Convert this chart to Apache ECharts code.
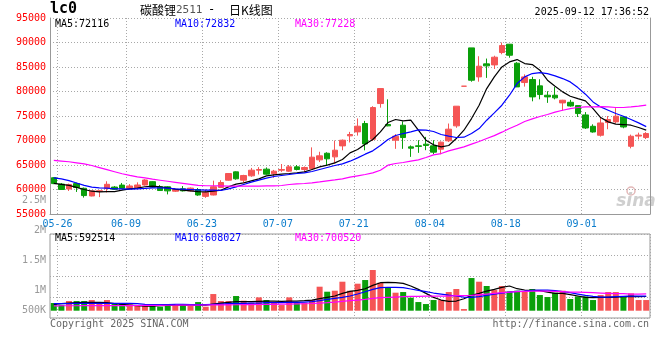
<!DOCTYPE html>
<html><head><meta charset="utf-8">
<script src="https://cdn.jsdelivr.net/npm/echarts@6/dist/echarts.min.js"></script>
<style>html,body{margin:0;padding:0;background:#fff}#c{width:660px;height:360px}</style>
</head><body><div id="c"></div>
<script>
const dates = ['05-23','05-26','05-27','05-28','05-29','05-30','06-03','06-04','06-05','06-06',
'06-09','06-10','06-11','06-12','06-13','06-16','06-17','06-18','06-19','06-20',
'06-23','06-24','06-25','06-26','06-27','06-30','07-01','07-02','07-03','07-04',
'07-07','07-08','07-09','07-10','07-11','07-14','07-15','07-16','07-17','07-18',
'07-21','07-22','07-23','07-24','07-25','07-28','07-29','07-30','07-31','08-01',
'08-04','08-05','08-06','08-07','08-08','08-11','08-12','08-13','08-14','08-15',
'08-18','08-19','08-20','08-21','08-22','08-25','08-26','08-27','08-28','08-29',
'09-01','09-02','09-03','09-04','09-05','09-08','09-09','09-10','09-11'];

const openP = [62400,61100,60100,61200,60250,58680,59600,60200,60500,60900,
60250,60390,60920,61600,60560,60560,59650,60140,59720,60000,
58600,58880,60410,61900,63600,61900,62790,63940,64150,63200,
63940,63740,64620,64080,64280,66050,67400,66660,68900,70950,
71760,73460,70270,77540,73260,70060,73120,68700,68910,69250,
68910,68230,69930,72990,81080,88900,82980,85640,85430,87950,
89650,85770,81830,82440,81150,79240,79240,77670,77800,77130,
75220,72900,71070,73660,73800,74800,68820,70900,70600];
const closeP = [61200,60000,61000,60400,58760,59700,59750,61060,60050,60250,
60720,60920,61940,60490,59790,59720,60000,59720,60280,58880,
59370,60560,61430,63260,62180,62860,63940,64080,63130,63740,
64080,64620,64080,64490,66600,66870,66260,68020,70060,71220,
72920,69300,76730,80600,72990,70880,70600,68430,68800,68980,
67620,69660,72310,77000,81080,82300,85160,85230,87000,89380,
87400,80940,82980,78900,79380,78900,78700,78220,77050,75500,
72560,71740,73580,74280,74960,72760,70870,71100,71420];
const highP = [62500,61300,61200,61400,60400,59800,59900,61680,60700,61330,
61100,61460,62100,61700,60900,60700,60100,60700,60400,60300,
60000,61800,61900,63300,63700,63000,64400,64560,64500,64000,
65200,65000,65000,64700,68600,67700,67600,70000,70200,71760,
74500,74000,77000,80600,78400,71300,73900,69000,70060,70740,
70060,69800,73460,77000,81080,88900,87200,86720,87300,90000,
89700,86000,83500,83000,82500,80060,80900,78300,78300,77200,
75800,73300,74700,75000,76600,75000,71200,71600,71700];
const lowP = [61100,59900,59700,59500,58350,58600,58450,59400,59900,60150,
60100,60050,60800,60400,59700,59000,59500,59600,59600,58700,
58300,58800,60300,61800,62000,61400,62600,63060,63000,62400,
63600,63600,63900,63600,64000,65600,64900,65300,68000,69600,
71000,68000,69900,76700,72900,68300,68300,66660,67480,68020,
67200,67200,69700,72600,81080,82000,82000,82780,84600,87600,
86900,80900,81000,78000,78400,77680,78400,76100,76900,74800,
72350,71600,70800,72300,73500,72500,68400,70200,70300];

const ma5 = [61260,61050,60840,60420,60000,59650,59510,59580,59580,59860,
60140,60280,60560,60700,60560,60350,60070,59860,59720,59580,
59510,59650,59860,60540,61090,61360,61770,62180,62790,62990,
63130,63260,63400,63600,64080,64620,64960,65440,66120,67480,
68160,69250,70200,71760,73670,74280,74010,74140,72100,70060,
69110,68700,68980,70400,72100,74480,77200,80600,82980,85020,
86040,86520,85700,85500,84340,82300,81080,79920,79040,78560,
78090,76520,74690,73800,73330,73260,73120,72650,72116];
const ma10 = [62380,62170,61820,61330,60840,60490,60350,60280,60140,60140,
60070,60140,60210,60350,60350,60280,60140,60070,60000,59930,
59860,59860,59800,60140,60540,61020,61500,61900,62310,62650,
62860,63060,63260,63400,63670,64080,64490,64900,65240,65780,
66460,67210,67890,68980,70200,71020,71420,71760,72170,72100,
71830,71220,70880,70610,70680,71420,72440,74140,75640,77200,
79240,81620,82980,83660,83870,83660,83190,82640,81960,80800,
79450,77880,76860,76180,75500,74960,74280,73600,72832];
const ma30 = [65940,65800,65660,65450,65240,64890,64470,64050,63630,63210,
62870,62590,62380,62100,61890,61680,61470,61260,61050,60840,
60770,60770,60750,60680,60680,60680,60680,60680,60750,60750,
60820,61020,61160,61220,61360,61560,61770,61970,62180,62520,
62790,63060,63400,63940,64960,65300,65510,65780,66050,66530,
67070,67340,67890,68300,68700,69250,69800,70400,71000,71700,
72440,73120,73870,74400,74900,75300,75780,76180,76520,76730,
76860,76860,76930,76860,76730,76730,76860,77000,77228];

const volume = [320000,236000,403000,403000,403000,445000,334000,445000,306000,306000,
264000,236000,236000,209000,167000,264000,264000,236000,195000,361000,
167000,695000,403000,403000,612000,417000,334000,556000,445000,334000,
236000,556000,334000,334000,445000,1001000,792000,834000,1209000,834000,
1126000,1279000,1696000,1168000,973000,751000,778000,542000,361000,278000,
445000,445000,778000,904000,70000,1362000,1209000,1029000,862000,1029000,
806000,834000,806000,904000,653000,570000,751000,834000,487000,598000,
598000,445000,653000,778000,778000,598000,723000,445000,445000];
const volMa5 = [264000,292000,320000,334000,348000,348000,348000,334000,292000,264000,
236000,209000,195000,195000,209000,222000,236000,236000,236000,236000,
236000,278000,320000,348000,375000,375000,375000,389000,403000,403000,
389000,403000,403000,417000,445000,500000,556000,612000,723000,806000,
848000,917000,1056000,1168000,1182000,1168000,1140000,1029000,890000,723000,
556000,445000,389000,403000,500000,639000,723000,820000,890000,973000,
1029000,917000,862000,848000,834000,778000,723000,723000,667000,612000,
556000,542000,556000,556000,570000,584000,598000,584000,592514];
const volMa10 = [292000,292000,292000,306000,306000,306000,306000,306000,306000,306000,
306000,292000,264000,250000,250000,250000,264000,264000,250000,250000,
250000,264000,278000,292000,306000,306000,320000,320000,334000,334000,
334000,348000,348000,361000,375000,417000,473000,514000,556000,612000,
695000,792000,890000,959000,973000,973000,959000,904000,848000,792000,
737000,695000,653000,612000,570000,556000,584000,639000,695000,737000,
778000,806000,820000,848000,862000,862000,834000,792000,751000,695000,
639000,598000,570000,570000,584000,598000,612000,612000,608027];
const volMa30 = [205000,206000,207000,207000,208000,209000,210000,211000,212000,213000,
215000,217000,219000,222000,224000,227000,229000,232000,234000,236000,
238000,240000,243000,245000,248000,251000,254000,258000,262000,266000,
271000,276000,283000,290000,300000,315000,335000,361000,389000,417000,
445000,473000,514000,542000,556000,570000,584000,598000,598000,612000,
612000,612000,612000,626000,626000,639000,667000,695000,723000,751000,
778000,792000,806000,820000,820000,820000,806000,792000,778000,778000,
765000,751000,737000,723000,709000,709000,695000,695000,700520];

const priceMin = 55000, priceMax = 95000, priceStep = 5000;
const dateLabelIdx = [1,10,20,30,40,50,60,70];
const volTickLabels = ['2.5M','2M','1.5M','1M','500K'];
const volTickY = [200.7,230.7,260.7,290,310];
const legendMain = ['MA5:72116','MA10:72832','MA30:77228'];
const legendVol = ['MA5:592514','MA10:608027','MA30:700520'];
const legendColors = ['#000000','#0000ff','#ff00ff'];
const legendX = [55,175,295];

const UP = '#f55555', DOWN = '#0a9f0a', GRIDC = '#a8a8a8', FRAME = '#999999';
const MONO = '"DejaVu Sans Mono", monospace';
const isUp = openP.map((o,i)=> closeP[i] >= o);

const chart = echarts.init(document.getElementById('c'), null, {renderer:'canvas'});
const dotted = {color: GRIDC, width: 1, type: [1,2]};
const pickIdx = (i) => dateLabelIdx.indexOf(i) >= 0;

const graphics = [];
graphics.push({type:'text', x:50, y:9, style:{text:'lc0', font:'bold 15px '+MONO, fill:'#000', verticalAlign:'middle'}});
graphics.push({type:'text', x:140, y:10, style:{text:'{a|碳酸锂}{b|2511}', rich:{a:{font:'12px "Noto Sans CJK SC"', fill:'#000'}, b:{font:'11px '+MONO, fill:'#555'}}, verticalAlign:'middle'}});
graphics.push({type:'text', x:208, y:10, style:{text:'-', font:'12px '+MONO, fill:'#000', verticalAlign:'middle'}});
graphics.push({type:'text', x:229, y:10, style:{text:'日K线图', font:'12px "Noto Sans CJK SC"', fill:'#000', verticalAlign:'middle'}});
graphics.push({type:'text', x:649, y:12, style:{text:'2025-09-12 17:36:52', font:'10px '+MONO, fill:'#000', align:'right', verticalAlign:'middle'}});
legendMain.forEach((t,k)=>graphics.push({type:'text', x:legendX[k], y:24, z:100, style:{text:t, font:'10px '+MONO, fill:legendColors[k], verticalAlign:'middle'}}));
legendVol.forEach((t,k)=>graphics.push({type:'text', x:legendX[k], y:238.5, z:100, style:{text:t, font:'10px '+MONO, fill:legendColors[k], verticalAlign:'middle'}}));
volTickLabels.forEach((t,k)=>graphics.push({type:'text', x:46, y:volTickY[k], style:{text:t, font:'10px '+MONO, fill:'#999', align:'right', verticalAlign:'middle'}}));
graphics.push({type:'text', x:50, y:324, style:{text:'Copyright 2025 SINA.COM', font:'10px '+MONO, fill:'#666', verticalAlign:'middle'}});
graphics.push({type:'text', x:649, y:324, style:{text:'http://finance.sina.com.cn', font:'10px '+MONO, fill:'#666', align:'right', verticalAlign:'middle'}});
graphics.push({type:'circle', shape:{cx:631, cy:191, r:4}, style:{fill:'none', stroke:'#e3b8b8', lineWidth:1.5}});
graphics.push({type:'text', x:636, y:202, style:{text:'sina', font:'italic bold 17px "DejaVu Sans"', fill:'#cfcfcf', align:'center', verticalAlign:'middle'}});

const option = {
  animation: false,
  backgroundColor: '#fff',
  grid: [
    {left:50, right:10, top:18, height:196, show:false},
    {left:50, right:10, top:234, height:84, show:true, borderColor:FRAME, borderWidth:1, backgroundColor:'transparent'}
  ],
  xAxis: [
    {type:'category', gridIndex:0, data:dates, boundaryGap:true,
     axisLine:{show:true, lineStyle:{color:FRAME}}, axisTick:{show:false},
     axisLabel:{interval:(i)=>pickIdx(i), color:'#0a7ccc', fontFamily:MONO, fontSize:10, margin:5, padding:[0,7.6,0,0]},
     splitLine:{show:true, interval:(i)=>pickIdx(i), lineStyle:dotted}},
    {type:'category', gridIndex:1, data:dates, boundaryGap:true,
     axisLine:{show:false}, axisTick:{show:false}, axisLabel:{show:false},
     splitLine:{show:true, interval:(i)=>pickIdx(i), lineStyle:dotted}}
  ],
  yAxis: [
    {type:'value', gridIndex:0, min:priceMin, max:priceMax, interval:priceStep, position:'left',
     axisLine:{show:true, lineStyle:{color:FRAME}}, axisTick:{show:false},
     axisLabel:{color:'#ff0000', fontFamily:MONO, fontSize:10, margin:4, padding:[0,0,3,0], formatter:(v)=>String(v)},
     splitLine:{show:true, lineStyle:dotted}},
    {type:'value', gridIndex:0, min:priceMin, max:priceMax, position:'right',
     axisLine:{show:true, lineStyle:{color:FRAME}}, axisTick:{show:false}, axisLabel:{show:false}, splitLine:{show:false}},
    {type:'value', gridIndex:1, min:-304000, max:3198000,
     axisLine:{show:false}, axisTick:{show:false}, axisLabel:{show:false}, splitLine:{show:false}},
    {type:'value', gridIndex:1, min:0, max:4, interval:1,
     axisLine:{show:false}, axisTick:{show:false}, axisLabel:{show:false}, splitLine:{show:true, lineStyle:dotted}}
  ],
  graphic: graphics,
  series: [
    {type:'candlestick', xAxisIndex:0, yAxisIndex:0, barWidth:6,
     data: dates.map((d,i)=>[openP[i], closeP[i], lowP[i], highP[i]]),
     itemStyle:{color:UP, color0:DOWN, borderColor:UP, borderColor0:DOWN, borderColorDoji:UP, borderWidth:1}, z:3},
    {type:'line', xAxisIndex:0, yAxisIndex:0, data:ma5, showSymbol:false, lineStyle:{color:'#000', width:1.2}, z:5, silent:true},
    {type:'line', xAxisIndex:0, yAxisIndex:0, data:ma10, showSymbol:false, lineStyle:{color:'#0000ff', width:1.2}, z:5, silent:true},
    {type:'line', xAxisIndex:0, yAxisIndex:0, data:ma30, showSymbol:false, lineStyle:{color:'#ff00ff', width:1.2}, z:5, silent:true},
    {type:'bar', xAxisIndex:1, yAxisIndex:2, data:volume, barWidth:6,
     itemStyle:{color:(p)=> isUp[p.dataIndex] ? UP : DOWN}, z:3},
    {type:'line', xAxisIndex:1, yAxisIndex:2, data:volMa5, showSymbol:false, lineStyle:{color:'#000', width:1.2}, z:5, silent:true},
    {type:'line', xAxisIndex:1, yAxisIndex:2, data:volMa10, showSymbol:false, lineStyle:{color:'#0000ff', width:1.2}, z:5, silent:true},
    {type:'line', xAxisIndex:1, yAxisIndex:2, data:volMa30, showSymbol:false, lineStyle:{color:'#ff00ff', width:1.2}, z:5, silent:true}
  ]
};
chart.setOption(option);
</script></body></html>
